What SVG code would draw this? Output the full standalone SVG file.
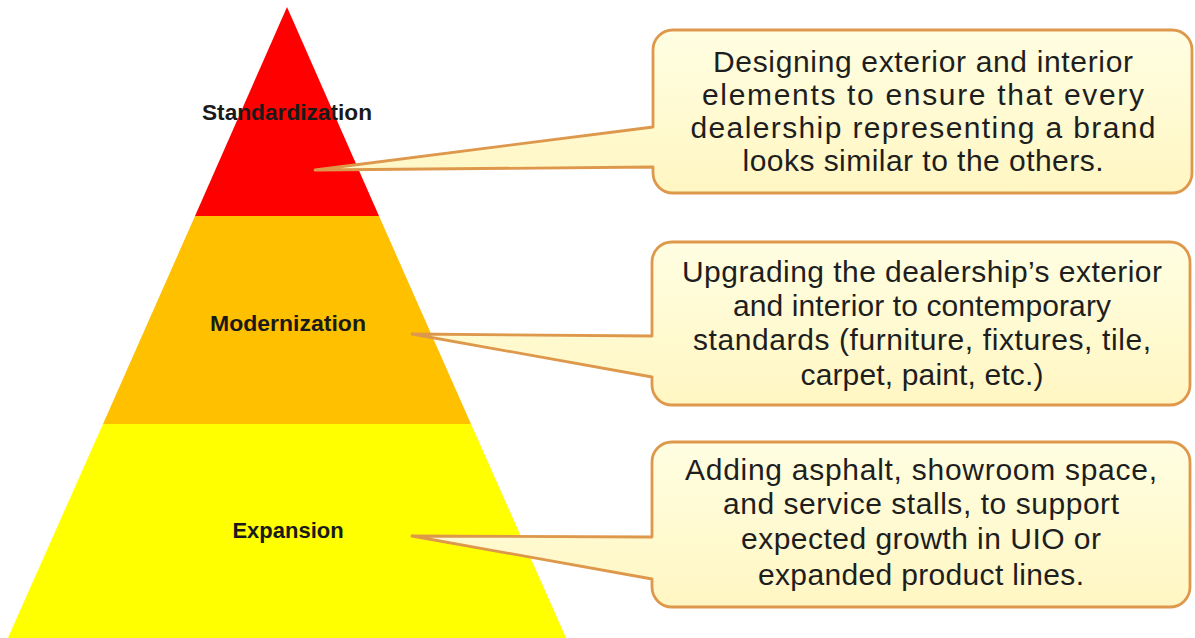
<svg xmlns="http://www.w3.org/2000/svg" width="1195" height="638" viewBox="0 0 1195 638">
<style>
  .lbl { font-family: "Liberation Sans", Arial, sans-serif; font-weight: bold; font-size: 22px; fill: #1a1a1a; text-anchor: middle; }
  .txt { font-family: "Liberation Sans", Arial, sans-serif; font-size: 30px; fill: #1e1e1e; text-anchor: middle; }
  .callout { fill: url(#cg); stroke: #DE984C; stroke-width: 2.8; stroke-linejoin: round; }
</style>
<defs>
  <linearGradient id="cg" x1="0" y1="0" x2="0" y2="1">
    <stop offset="0" stop-color="#FFFEE2"/>
    <stop offset="1" stop-color="#FFF6C2"/>
  </linearGradient>
</defs>
<rect width="1195" height="638" fill="#ffffff"/>
<g id="pyramid">
  <polygon id="tier-red" points="287,7 379,216 195,216" fill="#FF0000"/>
  <polygon id="tier-orange" points="195,216 379,216 471,424 103,424" fill="#FFC000"/>
  <polygon id="tier-yellow" points="103,424 471,424 567,640 7,640" fill="#FFFF00"/>
</g>
<g id="connectors">
  <path id="callout-1" class="callout" d="M673,30 H1172 A20,20 0 0 1 1192,50 V173 A20,20 0 0 1 1172,193 H673 A20,20 0 0 1 653,173 V167 L315,170 L653,127 V50 A20,20 0 0 1 673,30 Z"/>
  <path id="callout-2" class="callout" d="M672,242 H1170 A20,20 0 0 1 1190,262 V385 A20,20 0 0 1 1170,405 H672 A20,20 0 0 1 652,385 V377 L412,334 L652,336 V262 A20,20 0 0 1 672,242 Z"/>
  <path id="callout-3" class="callout" d="M672,442 H1170 A20,20 0 0 1 1190,462 V587 A20,20 0 0 1 1170,607 H672 A20,20 0 0 1 652,587 V579 L412,536 L652,537 V462 A20,20 0 0 1 672,442 Z"/>
</g>
<g id="node-standardization">
  <text class="lbl" x="287" y="120" textLength="170" lengthAdjust="spacingAndGlyphs">Standardization</text>
</g>
<g id="node-modernization">
  <text class="lbl" x="288" y="331" textLength="156" lengthAdjust="spacingAndGlyphs">Modernization</text>
</g>
<g id="node-expansion">
  <text class="lbl" x="288" y="538">Expansion</text>
</g>
<g id="box-standardization">
  <text class="txt" x="923" y="72" textLength="420" lengthAdjust="spacing">Designing exterior and interior</text>
  <text class="txt" x="923" y="105" textLength="442" lengthAdjust="spacing">elements to ensure that every</text>
  <text class="txt" x="923" y="138" textLength="465" lengthAdjust="spacing">dealership representing a brand</text>
  <text class="txt" x="923" y="171" textLength="361" lengthAdjust="spacing">looks similar to the others.</text>
</g>
<g id="box-modernization">
  <text class="txt" x="922" y="282" textLength="480" lengthAdjust="spacing">Upgrading the dealership’s exterior</text>
  <text class="txt" x="922" y="316" textLength="378" lengthAdjust="spacing">and interior to contemporary</text>
  <text class="txt" x="922" y="350" textLength="458" lengthAdjust="spacing">standards (furniture,  fixtures,  tile,</text>
  <text class="txt" x="922" y="385" textLength="243" lengthAdjust="spacing">carpet, paint, etc.)</text>
</g>
<g id="box-expansion">
  <text class="txt" x="921" y="480" textLength="472" lengthAdjust="spacing">Adding asphalt,  showroom space,</text>
  <text class="txt" x="921" y="514" textLength="396" lengthAdjust="spacing">and service stalls, to support</text>
  <text class="txt" x="921" y="549" textLength="360" lengthAdjust="spacing">expected growth in UIO or</text>
  <text class="txt" x="921" y="585" textLength="326" lengthAdjust="spacing">expanded product lines.</text>
</g>
</svg>
